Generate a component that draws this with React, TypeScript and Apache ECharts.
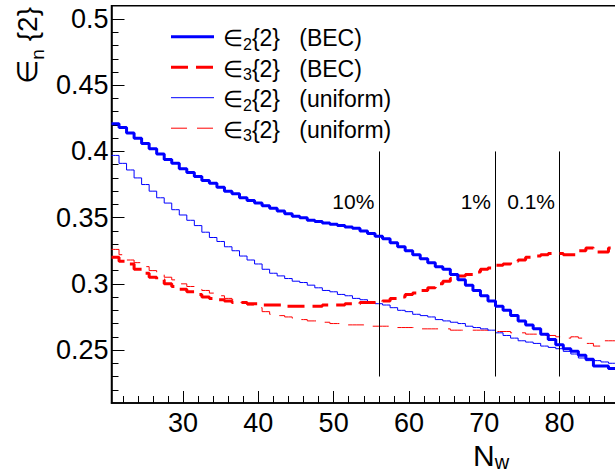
import React, { useEffect, useRef } from 'react';
import * as echarts from 'echarts';

// ---------- data ----------
const binCenters = [
  21, 22, 23, 24, 25, 26, 27, 28, 29, 30, 31, 32, 33, 34, 35, 36, 37, 38, 39, 40,
  41, 42, 43, 44, 45, 46, 47, 48, 49, 50, 51, 52, 53, 54, 55, 56, 57, 58, 59, 60,
  61, 62, 63, 64, 65, 66, 67, 68, 69, 70, 71, 72, 73, 74, 75, 76, 77, 78, 79, 80,
  81, 82, 83, 84, 85, 86, 87,
];

const e2BEC = [
  0.421, 0.418, 0.414, 0.41, 0.406, 0.402, 0.398, 0.394, 0.391, 0.387,
  0.384, 0.381, 0.378, 0.376, 0.373, 0.37, 0.368, 0.365, 0.363, 0.361,
  0.359, 0.357, 0.355, 0.353, 0.351, 0.35, 0.348, 0.347, 0.346, 0.345,
  0.344, 0.343, 0.342, 0.34, 0.338, 0.336, 0.334, 0.331, 0.328, 0.325,
  0.322, 0.319, 0.316, 0.313, 0.311, 0.307, 0.303, 0.299, 0.295, 0.291,
  0.287, 0.283, 0.28, 0.276, 0.272, 0.269, 0.266, 0.262, 0.258, 0.254,
  0.251, 0.249, 0.246, 0.243, 0.238, 0.238, 0.236,
];

const e3BEC = [
  0.32, 0.317, 0.315, 0.311, 0.308, 0.305, 0.303, 0.3, 0.298, 0.296,
  0.294, 0.292, 0.29, 0.289, 0.288, 0.287, 0.286, 0.286, 0.285, 0.285,
  0.284, 0.284, 0.284, 0.283, 0.283, 0.283, 0.283, 0.283, 0.284, 0.284,
  0.284, 0.285, 0.285, 0.286, 0.286, 0.286, 0.287, 0.289, 0.29, 0.292,
  0.293, 0.295, 0.297, 0.3, 0.302, 0.304, 0.306, 0.307, 0.309, 0.311,
  0.312, 0.314, 0.315, 0.317, 0.318, 0.32, 0.321, 0.322, 0.323, 0.323,
  0.322, 0.322, 0.325, 0.327, 0.324, 0.324, 0.327,
];

const e2Uniform = [
  0.397, 0.391, 0.386, 0.38, 0.375, 0.37, 0.365, 0.361, 0.356, 0.352,
  0.348, 0.344, 0.339, 0.335, 0.332, 0.328, 0.325, 0.321, 0.318, 0.315,
  0.311, 0.308, 0.306, 0.304, 0.302, 0.301, 0.299, 0.297, 0.295, 0.294,
  0.292, 0.291, 0.289, 0.288, 0.286, 0.285, 0.284, 0.282, 0.28, 0.279,
  0.277, 0.276, 0.275, 0.273, 0.272, 0.271, 0.27, 0.268, 0.267, 0.266,
  0.265, 0.263, 0.261, 0.259, 0.257, 0.256, 0.255, 0.253, 0.252, 0.251,
  0.249, 0.247, 0.244, 0.242, 0.242, 0.241, 0.24,
];

const e3Uniform = [
  0.326, 0.322, 0.318, 0.316, 0.313, 0.31, 0.307, 0.305, 0.303, 0.3,
  0.298, 0.296, 0.295, 0.293, 0.291, 0.289, 0.288, 0.286, 0.284, 0.282,
  0.279, 0.277, 0.276, 0.275, 0.274, 0.273, 0.272, 0.272, 0.271, 0.27,
  0.27, 0.269, 0.269, 0.269, 0.268, 0.268, 0.268, 0.267, 0.267, 0.267,
  0.267, 0.266, 0.266, 0.266, 0.266, 0.265, 0.265, 0.265, 0.265, 0.265,
  0.264, 0.264, 0.264, 0.263, 0.263, 0.262, 0.262, 0.261, 0.261, 0.26,
  0.259, 0.26, 0.259, 0.255, 0.253, 0.257, 0.257,
];

const legendLabels = [
  '\u2208{s|2}{2}\u00a0\u00a0\u00a0(BEC)',
  '\u2208{s|3}{2}\u00a0\u00a0\u00a0(BEC)',
  '\u2208{s|2}{2}\u00a0\u00a0\u00a0(uniform)',
  '\u2208{s|3}{2}\u00a0\u00a0\u00a0(uniform)',
];
const seriesNames = ['e2{2} (BEC)', 'e3{2} (BEC)', 'e2{2} (uniform)', 'e3{2} (uniform)'];

const xMajorTicks = [30, 40, 50, 60, 70, 80];
const xMinorTicks = [22, 24, 26, 28, 32, 34, 36, 38, 42, 44, 46, 48, 52, 54, 56, 58, 62, 64, 66, 68, 72, 74, 76, 78, 82, 84, 86];
const yMajorTicks = [0.25, 0.3, 0.35, 0.4, 0.45, 0.5];
const yMinorTicks = [
  0.22, 0.23, 0.24, 0.26, 0.27, 0.28, 0.29, 0.31, 0.32, 0.33, 0.34, 0.36, 0.37, 0.38, 0.39,
  0.41, 0.42, 0.43, 0.44, 0.46, 0.47, 0.48, 0.49,
];

const thresholdX = [56, 71.5, 80];
const thresholdLabels = ['10%', '1%', '0.1%'];
const thresholdLineY = [0.23, 0.4];
const thresholdLabelY = 0.362;

const X_MIN = 20.5;
const X_MAX = 87.5;
const Y_MIN = 0.21;
const Y_MAX = 0.51;

// ---------- styles ----------
const FONT = '"Liberation Sans", Arial, Helvetica, sans-serif';
const seriesStyles = [
  { color: '#0000ff', width: 3, type: 'solid' as any },
  { color: '#ff0000', width: 3, type: [17, 8] as any },
  { color: '#0000ff', width: 1, type: 'solid' as any },
  { color: '#ff0000', width: 1, type: [16, 10] as any },
];
const seriesValues = [e2BEC, e3BEC, e2Uniform, e3Uniform];

function stepData(vals: number[]) {
  const pts: number[][] = [[X_MIN, vals[0]]];
  binCenters.forEach((x, i) => pts.push([x, vals[i]]));
  pts.push([X_MAX, vals[vals.length - 1]]);
  return pts;
}

export default function App() {
  const ref = useRef<HTMLDivElement>(null);

  useEffect(() => {
    if (!ref.current) return;
    const chart = echarts.init(ref.current, undefined, { renderer: 'svg' });

    const legendGraphics: any[] = [];
    const legendTop = 36.7;
    const legendGap = 30.5;
    legendLabels.forEach((lab, i) => {
      const y = legendTop + i * legendGap;
      const st = seriesStyles[i];
      legendGraphics.push({
        type: 'line',
        shape: { x1: 171, y1: y, x2: 214, y2: y },
        style: {
          stroke: st.color,
          lineWidth: st.width,
          lineDash: Array.isArray(st.type) ? st.type : null,
        },
        silent: true,
      });
      legendGraphics.push({
        type: 'text',
        x: 223,
        y: y + 1.5,
        silent: true,
        style: {
          text: lab,
          fill: '#000',
          fontSize: 23,
          fontFamily: FONT,
          lineHeight: 28,
          align: 'left',
          verticalAlign: 'middle',
          rich: {
            s: { fontSize: 16, lineHeight: 16, verticalAlign: 'bottom', fontFamily: FONT, fill: '#000' },
          },
        },
      });
    });

    const option: any = {
      animation: false,
      backgroundColor: '#fff',
      grid: {
        left: 111.5,
        top: 5.8,
        width: 504.5,
        height: 397.2,
        show: true,
        borderColor: '#000',
        borderWidth: 1.5,
        backgroundColor: 'transparent',
      },
      xAxis: [
        {
          type: 'value',
          min: X_MIN,
          max: X_MAX,
          axisLine: { show: true, onZero: false, lineStyle: { color: '#000', width: 1.5 } },
          axisTick: { show: true, inside: true, length: 12, lineStyle: { color: '#000', width: 1 }, customValues: xMajorTicks },
          axisLabel: { show: true, customValues: xMajorTicks, fontSize: 27, color: '#000', fontFamily: FONT, margin: 6 },
          splitLine: { show: false },
        },
        {
          type: 'value',
          min: X_MIN,
          max: X_MAX,
          position: 'bottom',
          axisLine: { show: false },
          axisTick: { show: true, inside: true, length: 7, lineStyle: { color: '#000', width: 1 }, customValues: xMinorTicks },
          axisLabel: { show: false },
          splitLine: { show: false },
        },
      ],
      yAxis: [
        {
          type: 'value',
          min: Y_MIN,
          max: Y_MAX,
          axisLine: { show: true, onZero: false, lineStyle: { color: '#000', width: 1.5 } },
          axisTick: { show: true, inside: true, length: 13, lineStyle: { color: '#000', width: 1 }, customValues: yMajorTicks },
          axisLabel: { show: true, customValues: yMajorTicks, fontSize: 27, color: '#000', fontFamily: FONT, margin: 3 },
          splitLine: { show: false },
        },
        {
          type: 'value',
          min: Y_MIN,
          max: Y_MAX,
          position: 'left',
          axisLine: { show: false },
          axisTick: { show: true, inside: true, length: 7, lineStyle: { color: '#000', width: 1 }, customValues: yMinorTicks },
          axisLabel: { show: false },
          splitLine: { show: false },
        },
      ],
      series: [
        {
          type: 'scatter',
          name: 'thresholds',
          xAxisIndex: 0,
          yAxisIndex: 0,
          symbol: 'circle',
          symbolSize: 1,
          itemStyle: { color: 'rgba(0,0,0,0)' },
          silent: true,
          data: thresholdX.map((x, i) => ({
            value: [x, thresholdLabelY],
            label: { show: true, formatter: thresholdLabels[i] },
          })),
          label: {
            show: true,
            position: 'left',
            distance: 4,
            fontSize: 21,
            color: '#000000',
            opacity: 1,
            textBorderWidth: 0,
            fontFamily: FONT,
          },
          labelLayout: { hideOverlap: false },
          markLine: {
            silent: true,
            symbol: ['none', 'none'],
            lineStyle: { color: '#000', width: 1, type: 'solid' },
            label: { show: false },
            data: thresholdX.map((x) => [{ coord: [x, thresholdLineY[0]] }, { coord: [x, thresholdLineY[1]] }]),
          },
          z: 10,
        },
        ...seriesValues.map((vals, i) => ({
          type: 'line',
          name: seriesNames[i],
          xAxisIndex: 0,
          yAxisIndex: 0,
          step: 'middle',
          showSymbol: false,
          symbol: 'none',
          silent: true,
          data: stepData(vals),
          lineStyle: { color: seriesStyles[i].color, width: seriesStyles[i].width, type: seriesStyles[i].type },
          itemStyle: { color: seriesStyles[i].color },
          z: 3 + (3 - i),
        })),
      ],
      graphic: [
        ...legendGraphics,
        {
          type: 'text',
          x: 27,
          y: 7,
          rotation: Math.PI / 2,
          silent: true,
          style: {
            text: '\u2208{s|n}\u00a0{2}',
            fill: '#000',
            fontSize: 28,
            fontFamily: FONT,
            lineHeight: 40,
            align: 'right',
            verticalAlign: 'middle',
            rich: {
              s: { fontSize: 19, lineHeight: 19, verticalAlign: 'bottom', fontFamily: FONT, fill: '#000' },
            },
          },
        },
        {
          type: 'text',
          x: 473,
          y: 455,
          silent: true,
          style: {
            text: 'N{s|w}',
            fill: '#000',
            fontSize: 30,
            fontFamily: FONT,
            lineHeight: 33,
            align: 'left',
            verticalAlign: 'middle',
            rich: {
              s: { fontSize: 20, lineHeight: 20, verticalAlign: 'bottom', fontFamily: FONT, fill: '#000' },
            },
          },
        },
      ],
    };

    chart.setOption(option);
    return () => chart.dispose();
  }, []);

  return (
    <div style={{ position: 'fixed', left: 0, top: 0, width: 615, height: 475, overflow: 'hidden', background: '#fff' }}>
      <div ref={ref} style={{ width: 625, height: 475 }} />
    </div>
  );
}
